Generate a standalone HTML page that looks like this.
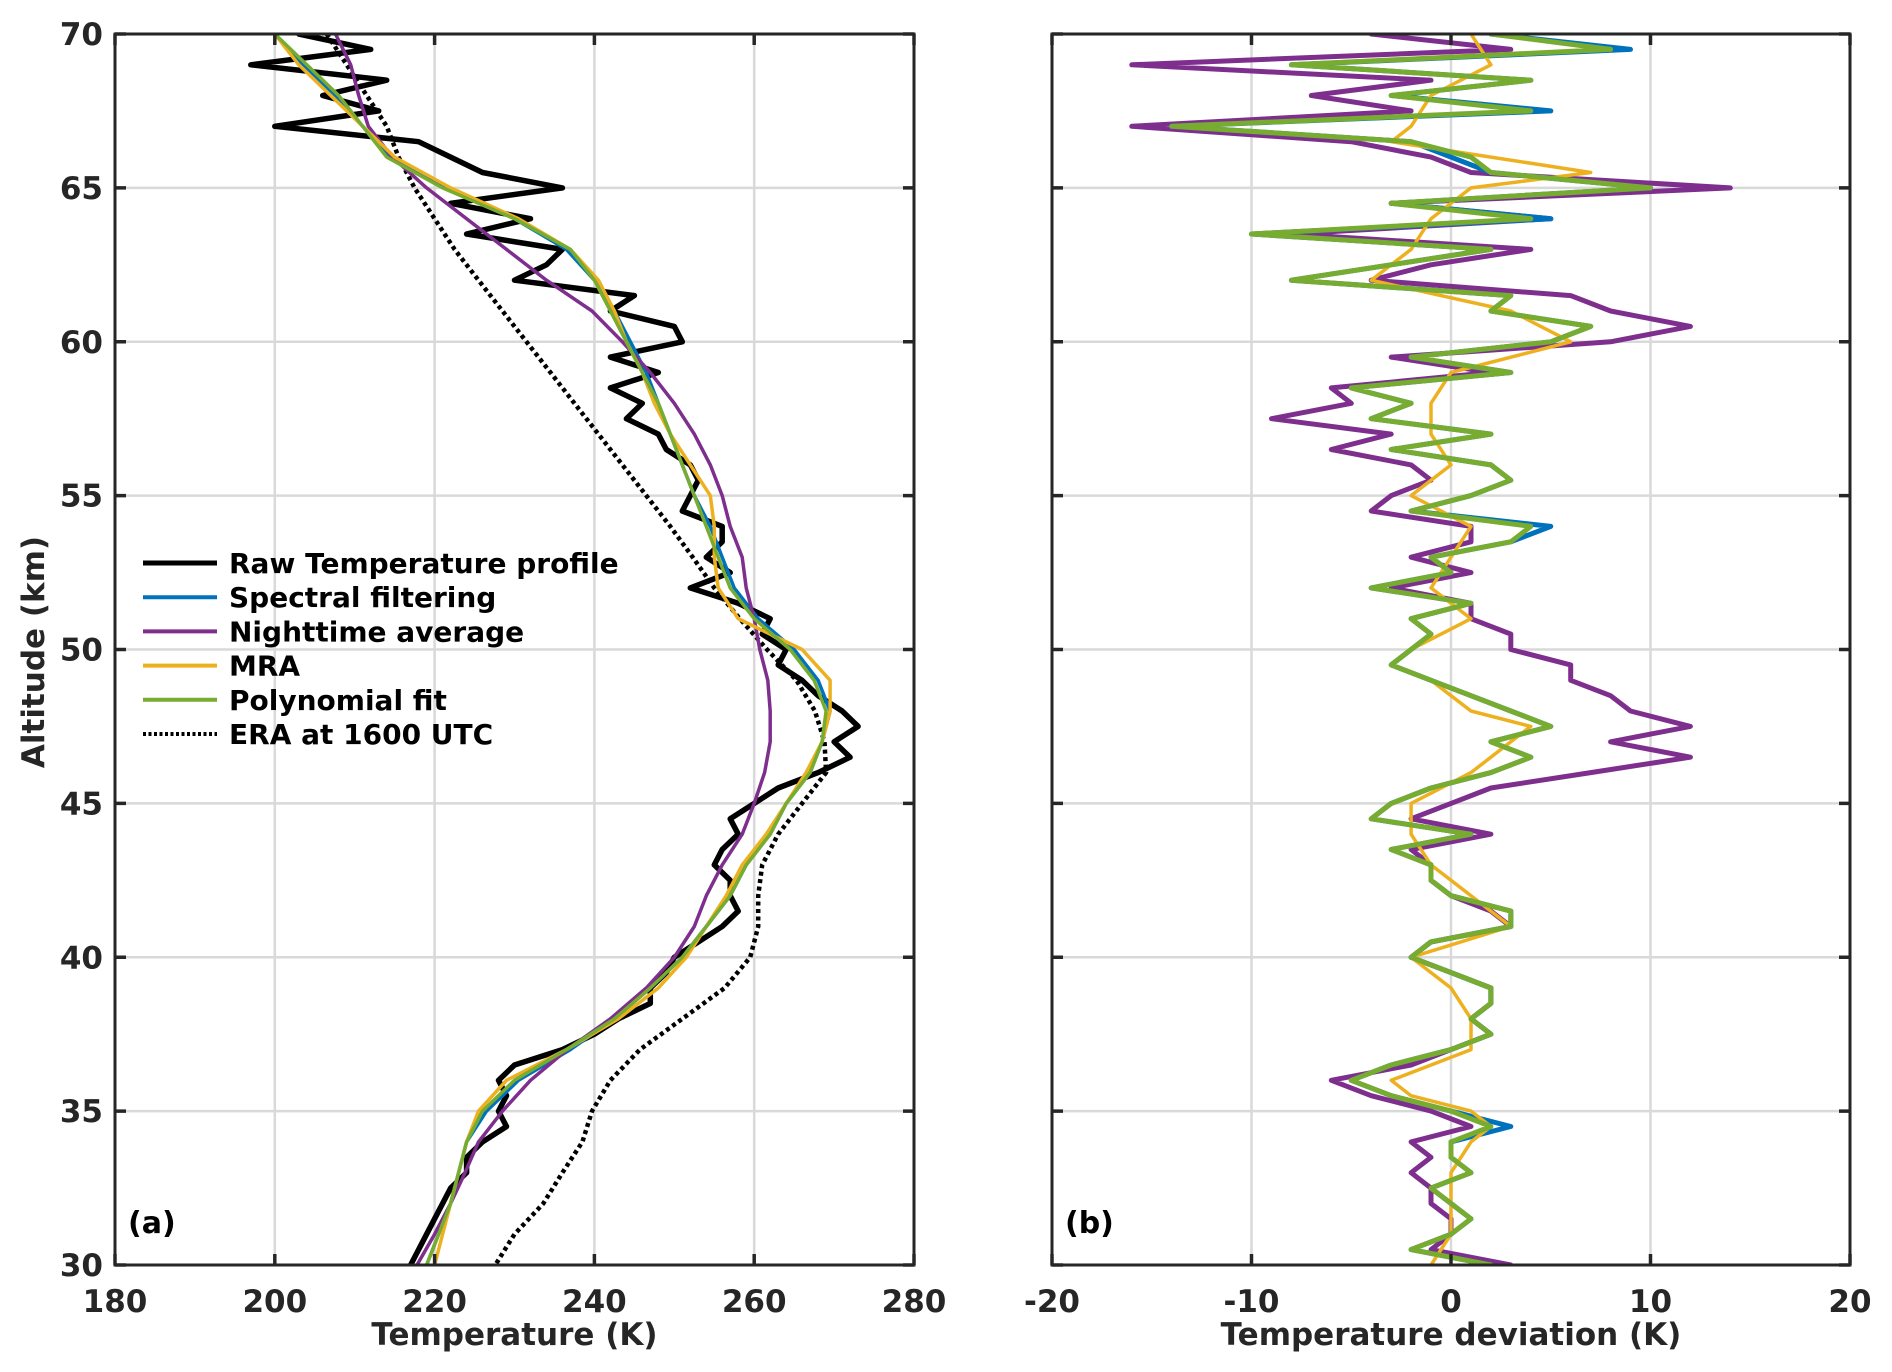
<!DOCTYPE html>
<html><head><meta charset="utf-8">
<style>
html,body{margin:0;padding:0;background:#fff;}
svg{display:block;font-family:"DejaVu Sans","Liberation Sans",sans-serif;font-weight:bold;}
</style></head>
<body>
<svg id="chart" width="1892" height="1372" viewBox="0 0 1892 1372" xmlns="http://www.w3.org/2000/svg">
<rect width="1892" height="1372" fill="#fff"/>
<g id="pa"></g>
<g id="pb"></g>
</svg>
<script>
// ---- data ----
const rawAlt = [];
for (let a = 70; a >= 30; a -= 0.5) rawAlt.push(a);
const rawTemp = [203,212,197,214,206,213,200,218,222,226,236,222,232,224,236,234,230,245,242,250,251,242,248,242,246,244,248,249,252,253,252,251,256,256,254,257,252,258,262,261,264,263,266,268,271,273,270,272,268,263,260,257,258,256,255,257,257,258,256,253,250,249,247,247,243,240,236,230,228,229,228,229,226,224,224,222,221,220,219,218,217];
const fitAlt = [70,69,68,67,66,65,64,63,62,61,60,59,58,57,56,55,54,53,52,51,50,49,48,47,46,45,44,43,42,41,40,39,38,37,36,35,34,33,32,31,30];
const polyTemp = [200,204,208,211,214,221,230,237,240,242,244,246,248,249.5,251,252.5,254,255.5,257,260,264.5,267.5,269,268.5,267,264,262,259,257,254,251,247,242.5,236.5,230,226,224,223,222,220.5,219];
const specTemp = [200,203.5,207.5,211,214.5,221.5,230,236.5,240,242.5,244.5,246.5,248,249.5,251,252.5,254.5,256,257.5,260.5,265,268,269.5,268.5,267,264,262,259,257,254,251,247,242.5,237,230.5,226.5,224,223,222,220.5,219];
const mraTemp = [200,203,207,211,215,222,230.5,237,240.5,242.5,244,246,247.5,249.5,252,254.5,255,255,255.5,258,266,269.5,269.5,268.5,266.5,264,261.5,258.5,256.5,254,251.5,248,243,236.5,229,225.5,224,223,222,221,220];
const nightTemp = [207.6,209.5,210.5,211.7,214.7,219,224,229,234,239.7,243.5,247,250,252.5,254.5,256,257,258.5,259,260,260.7,261.7,262,262,261.3,260,258.5,256,254,252.5,250,246.5,242,236.6,232,228.5,225.5,223.8,222,220,217.8];
const eraTemp = [206.5,209,211.5,214,215.5,217.5,220,222.5,225.5,228.5,231.5,234.5,237.5,240.5,243.5,246.5,249.5,252.3,255,258.2,261.6,265.3,267.6,268.8,269,266,263,261,260.5,260.5,259.5,256.3,251,245.7,242,239.7,238.5,236,233.6,230,227.6];
const devAlt = rawAlt;
const devPoly = [2,8,-8,4,-3,4,-14,-2,1,2,10,-3,4,-10,2,-3,-8,3,2,7,5,-2,3,-5,-2,-4,2,-3,2,3,1,-2,4,3,-1,0,-4,1,-2,-1,-2,-3,-1,1,3,5,2,4,2,-1,-3,-4,1,-3,-1,-1,0,3,3,-1,-2,0,2,2,1,2,0,-3,-5,-3,0,2,0,0,1,-1,0,1,0,-2,2];
const devSpec = [2,9,-8,4,-3,5,-14,-2,0,2,10,-3,5,-10,2,-3,-8,3,2,7,5,-2,3,-5,-2,-4,2,-3,2,3,1,-2,5,3,-1,0,-4,1,-2,-1,-2,-3,-1,1,3,5,2,4,2,-1,-3,-4,1,-3,-1,-1,0,3,3,-1,-2,0,2,2,1,2,0,-3,-5,-3,0,3,0,0,1,-1,0,1,0,-2,2];
const devNight = [-4,3,-16,-1,-7,-2,-16,-5,-1,1,14,-3,5,-8,4,-1,-4,6,8,12,8,-3,2,-6,-5,-9,-3,-6,-2,-1,-3,-4,1,1,-2,1,-3,1,1,3,3,6,6,8,9,12,8,12,7,2,0,-2,2,-2,-1,-1,0,2,3,-1,-2,0,2,2,1,2,0,-2,-6,-4,-1,1,-2,-1,-2,-1,-1,0,0,-1,3];
const mraAlt = [70,69,68,67,66.5,66,65.5,65,64,63,62,61,60,59,58,57,56,55,54,53,52,51,50,49.5,49,48,47.5,47,46,45,44,43,42,41,40,39,38,37,36,35.5,35,34.5,34,33,32,31,30];
const devMra = [1,2,-1,-2,-3,2,7,1,-1,-2,-4,3,6,0,-1,-1,0,-2,1,0,-1,1,-2,-3,-1,1,4,3,1,-2,-2,-1,1,3,-2,0,1,1,-3,-2,1,2,1,0,0,0,-1];
const tempTicks = [180,200,220,240,260,280];
const devTicks = [-20,-10,0,10,20];
const altTicks = [30,35,40,45,50,55,60,65,70];
const legendLabels = ["Raw Temperature profile","Spectral filtering","Nighttime average","MRA","Polynomial fit","ERA at 1600 UTC"];

const NS = "http://www.w3.org/2000/svg";
function mk(tag, attrs, parent){const e=document.createElementNS(NS,tag);for(const k in attrs)e.setAttribute(k,attrs[k]);parent.appendChild(e);return e;}
const Y0=34, Y1=1265;
function yS(a){return Y1-(a-30)/40*(Y1-Y0);}

function axes(g, x0, x1, xmin, xmax, xt){
  const xS = v => x0+(v-xmin)/(xmax-xmin)*(x1-x0);
  xt.forEach(t=>{
    const gl=mk('line',{x1:xS(t),x2:xS(t),y1:Y0,y2:Y1,stroke:'#d9d9d9','stroke-width':2.5},g);
    
  });
  altTicks.forEach(t=>{
    const gl=mk('line',{x1:x0,x2:x1,y1:yS(t),y2:yS(t),stroke:'#d9d9d9','stroke-width':2.5},g);
    
  });
  return xS;
}
function frame(g,x0,x1,xt,showY,xtitle,panelLabel,xS){
  const b=mk('rect',{x:x0,y:Y0,width:x1-x0,height:Y1-Y0,fill:'none',stroke:'#262626','stroke-width':3},g);
  
  xt.forEach(t=>{
    const x=xS(t);
    mk('line',{x1:x,x2:x,y1:Y1,y2:Y1-11,stroke:'#262626','stroke-width':3.5},g);
    mk('line',{x1:x,x2:x,y1:Y0,y2:Y0+11,stroke:'#262626','stroke-width':3.5},g);
    const tx=mk('text',{x:x,y:1312,'text-anchor':'middle','font-size':31,fill:'#262626'},g);
    tx.textContent=String(t);
    
  });
  altTicks.forEach(t=>{
    const y=yS(t);
    mk('line',{x1:x0,x2:x0+11,y1:y,y2:y,stroke:'#262626','stroke-width':3.5},g);
    mk('line',{x1:x1,x2:x1-11,y1:y,y2:y,stroke:'#262626','stroke-width':3.5},g);
    if(showY){
      const tx=mk('text',{x:x0-12,y:y+11,'text-anchor':'end','font-size':31,fill:'#262626'},g);
      tx.textContent=String(t);
      
    }
  });
  const xl=mk('text',{x:(x0+x1)/2,y:1345,'text-anchor':'middle','font-size':31,fill:'#262626'},g);
  xl.textContent=xtitle;
  
  const pl=mk('text',{x:x0+13,y:1233,'font-size':30,fill:'#000'},g);
  pl.textContent=panelLabel;
  
}
function line(g, xs, alts, xS, color, w, name, dash){
  const pts=xs.map((v,i)=>xS(v).toFixed(1)+','+yS(alts[i]).toFixed(1)).join(' ');
  const a={points:pts,fill:'none',stroke:color,'stroke-width':w,'stroke-linejoin':'round','stroke-linecap':'round'};
  if(dash){a['stroke-dasharray']=dash;a['stroke-linecap']='butt';}
  const p=mk('polyline',a,g);
  
  
  return p;
}

// panel a
const ga=document.getElementById('pa');
const clipA=mk('clipPath',{id:'ca'},ga); mk('rect',{x:115,y:Y0,width:799,height:Y1-Y0},clipA);
const xa=axes(ga,115,914,180,280,tempTicks);
const la=mk('g',{'clip-path':'url(#ca)'},ga);
line(la,eraTemp,fitAlt,xa,'#000',4.5,'era-line','4 3.5');
line(la,rawTemp,rawAlt,xa,'#000',5.5,'raw-temperature-line');
line(la,specTemp,fitAlt,xa,'#0072bd',3.5,'spectral-filtering-line');
line(la,nightTemp,fitAlt,xa,'#7e2f8e',3.5,'nighttime-average-line');
line(la,mraTemp,fitAlt,xa,'#edb120',3.5,'mra-line');
line(la,polyTemp,fitAlt,xa,'#77ac30',3.5,'polynomial-fit-line');
frame(ga,115,914,tempTicks,true,'Temperature (K)','(a)',xa);
const yl=mk('text',{x:0,y:0,'text-anchor':'middle','font-size':31,fill:'#262626',transform:'translate(44,652) rotate(-90)'},ga);
yl.textContent='Altitude (km)';


// legend
const lg=mk('g',{},ga);

const lc=['#000','#0072bd','#7e2f8e','#edb120','#77ac30','#000'];
legendLabels.forEach((t,i)=>{
  const y=563+i*34.2;
  const ent=mk('g',{},lg);
  
  const a={x1:143,x2:217,y1:y,y2:y,stroke:lc[i],'stroke-width':i==0?5:4};
  if(i==5)a['stroke-dasharray']='3 2.5';
  mk('line',a,ent);
  const tx=mk('text',{x:229,y:y+10,'font-size':28,fill:'#000'},ent);
  tx.textContent=t;
});

// panel b
const gb=document.getElementById('pb');
const clipB=mk('clipPath',{id:'cb'},gb); mk('rect',{x:1052,y:Y0,width:798,height:Y1-Y0},clipB);
const xb=axes(gb,1052,1850,-20,20,devTicks);
const lb=mk('g',{'clip-path':'url(#cb)'},gb);
line(lb,devNight,devAlt,xb,'#7e2f8e',5,'nighttime-deviation-line');
line(lb,devSpec,devAlt,xb,'#0072bd',5,'spectral-deviation-line');
line(lb,devMra,mraAlt,xb,'#edb120',3.5,'mra-deviation-line');
line(lb,devPoly,devAlt,xb,'#77ac30',5,'polynomial-deviation-line');
frame(gb,1052,1850,devTicks,false,'Temperature deviation (K)','(b)',xb);
</script>
</body></html>
